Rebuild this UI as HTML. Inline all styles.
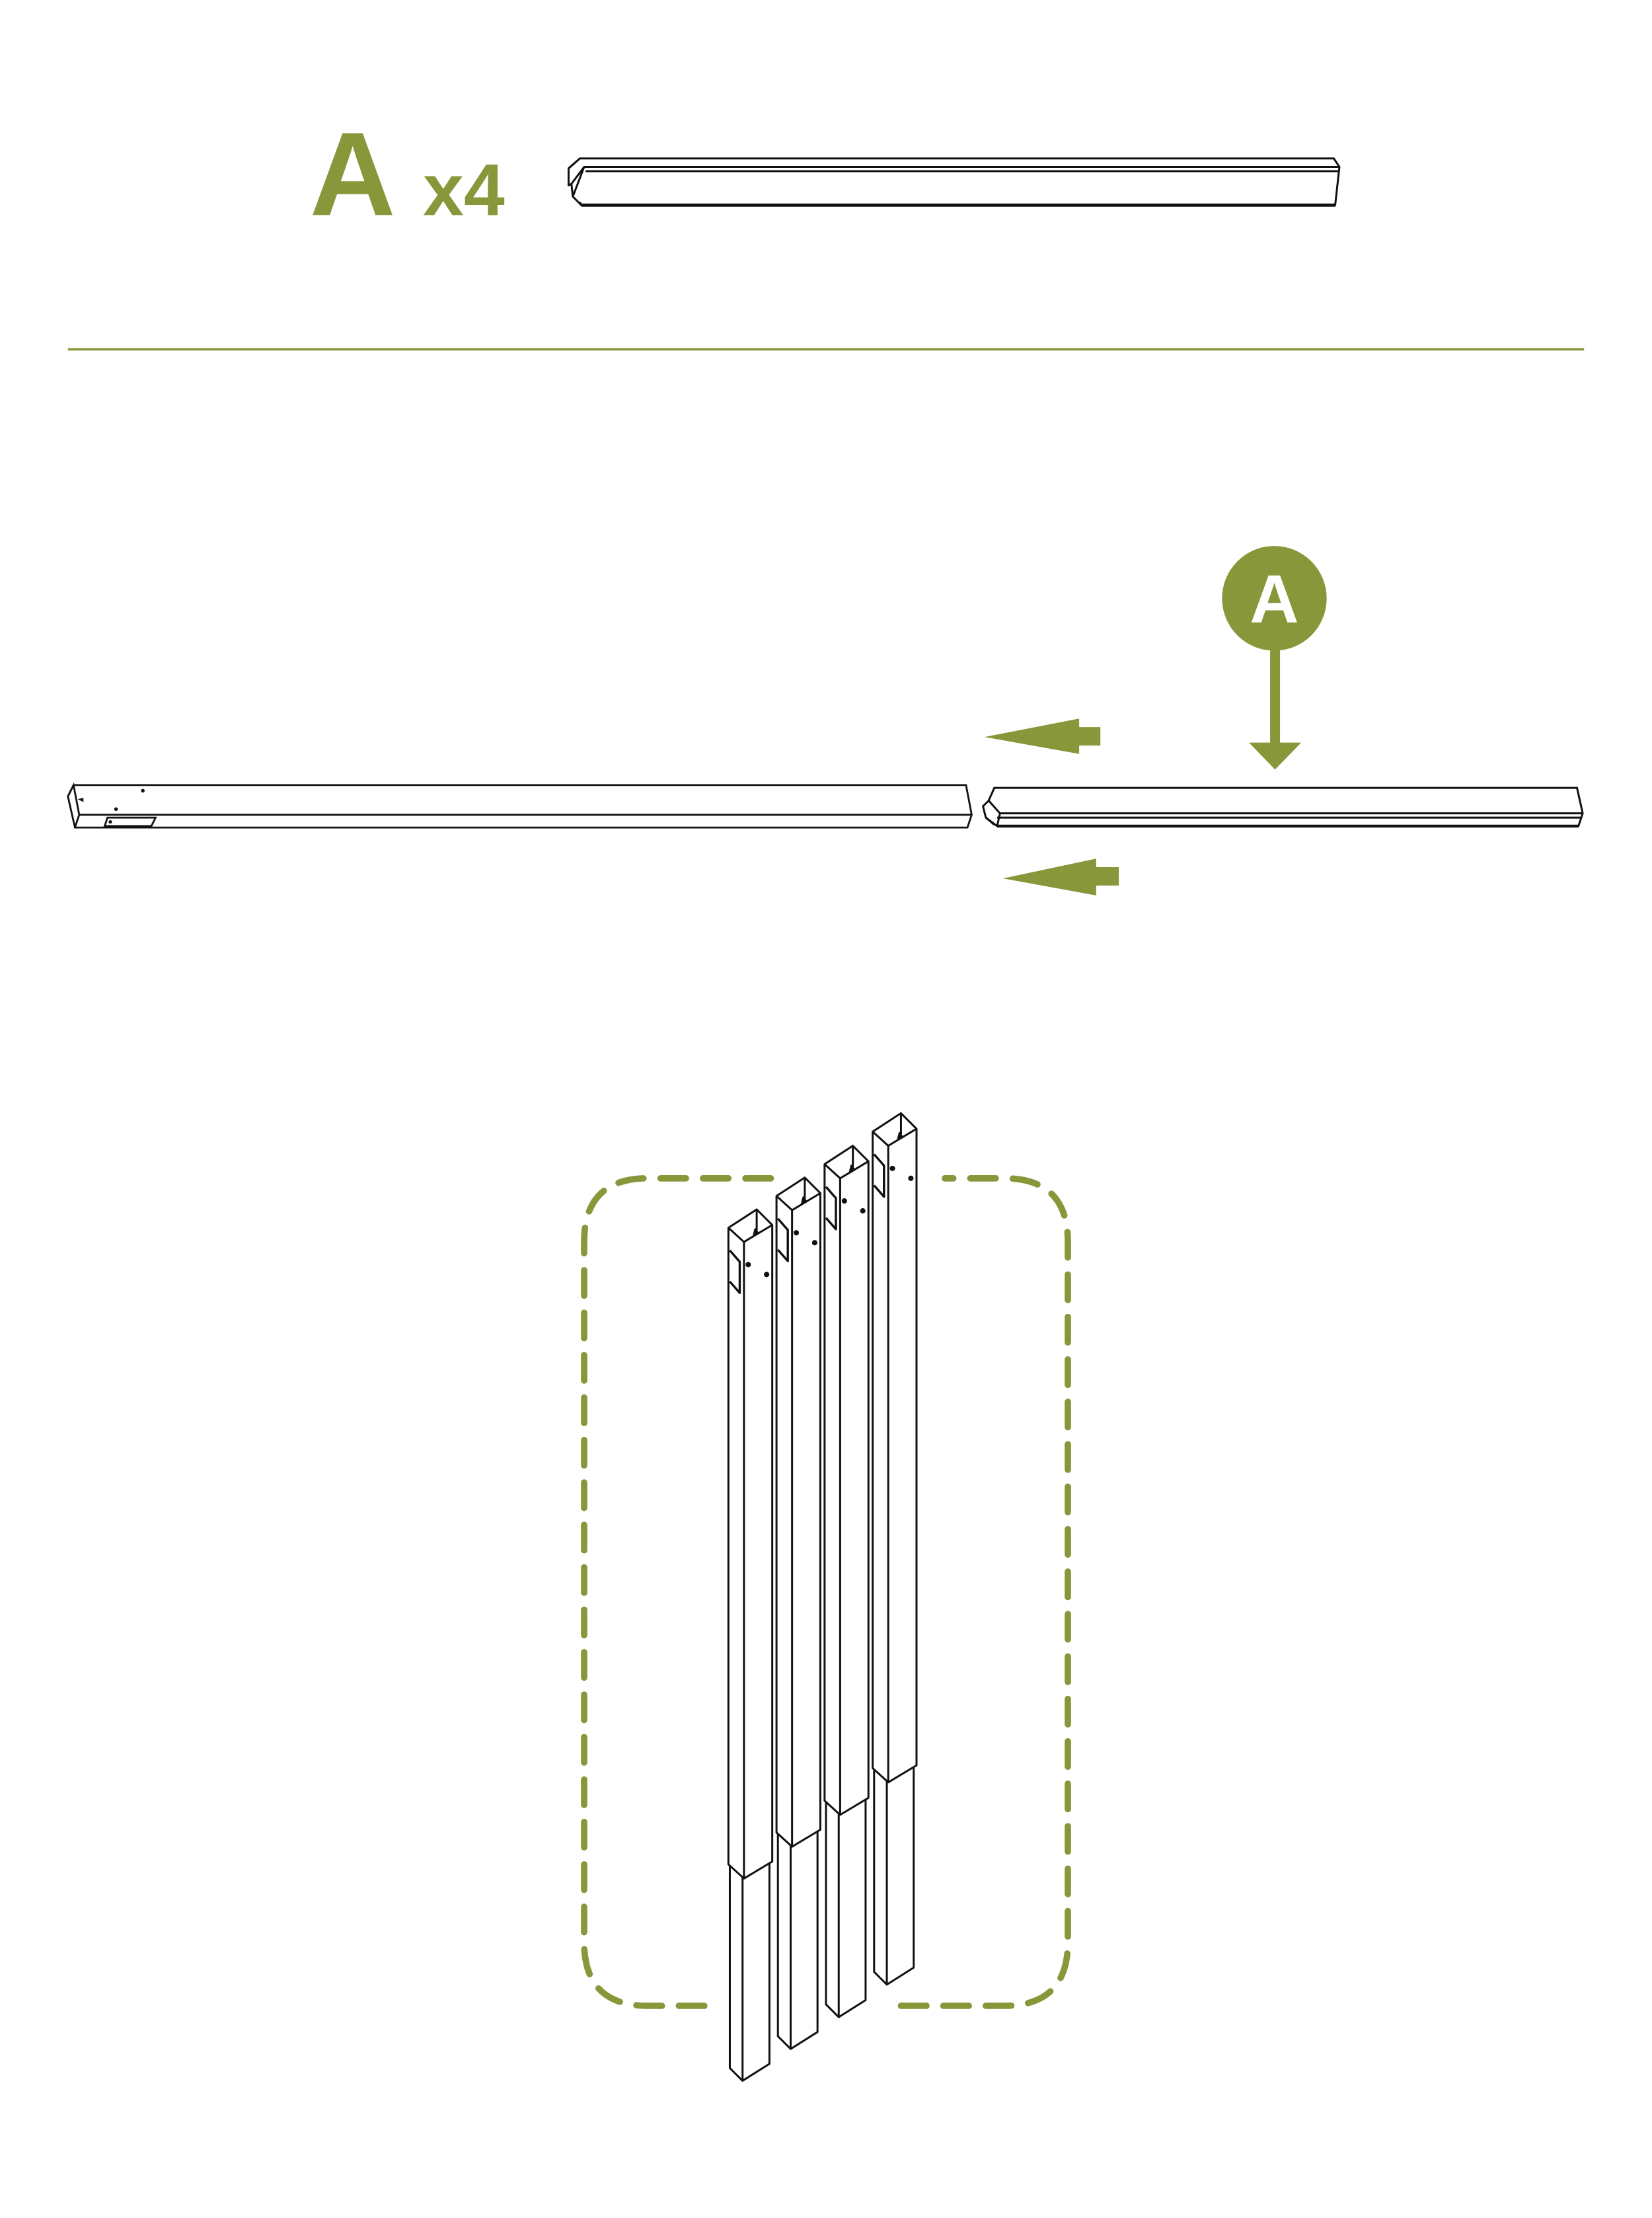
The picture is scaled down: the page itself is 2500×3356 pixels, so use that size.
<!DOCTYPE html>
<html><head><meta charset="utf-8"><style>
html,body{margin:0;padding:0;background:#fff;}
svg{display:block;}
</style></head><body>
<svg width="2500" height="3356" viewBox="0 0 1168 1568" preserveAspectRatio="none" xmlns="http://www.w3.org/2000/svg">
<rect width="1170" height="1570" fill="#fff"/>
<g fill="#87973a" font-family="Liberation Sans, sans-serif" font-weight="bold">
<text x="219" y="152" font-size="84">A</text>
<text x="299" y="152" font-size="52">x4</text>
</g>
<g fill="none" stroke="#111" stroke-width="1.4" stroke-linejoin="round">
<path d="M410,112 L943,112 L947,118 L944,145 L411,145 L405,139 L404,130 L402,131 L402,119 Z"/>
<path d="M402,119 L410,112 M404,130 L413,118 L947,118 M413,118 L405,139 M411,145 L410,143"/>
<line x1="414" y1="121" x2="946" y2="121"/>
<line x1="411" y1="145" x2="944" y2="145" stroke-width="2.2"/>
</g>
<line x1="48" y1="247" x2="1120" y2="247" stroke="#87973a" stroke-width="1.6"/>
<g fill="none" stroke="#111" stroke-width="1.3">
<path d="M52,555 L683,555 L687,576 L684,585 L53,585 L48,563 Z"/>
<path d="M48,563 L52,555 L56,576 L687,576 M56,576 L53,585"/>
<path d="M76,578 L110,578 L107,584 L74,584 Z"/>
</g>
<g fill="#111"><circle cx="101" cy="559" r="1.3"/><circle cx="82" cy="572" r="1.3"/><circle cx="78" cy="581" r="1.2"/><path d="M55,565 l4,-1 v3 z"/></g>
<g fill="none" stroke="#111" stroke-width="1.4">
<path d="M703,557 L1115,557 L1119,575 L1116,584 L705,584 L697,578 L695,570 L699,566 Z"/>
<path d="M699,566 L707,575 L1119,575 M707,575 L705,584 M697,578 L703,583"/>
<line x1="705" y1="578" x2="1118" y2="578"/>
<line x1="705" y1="584" x2="1116" y2="584" stroke-width="2"/>
</g>
<g fill="#87973a">
<circle cx="901" cy="423" r="37"/>
<rect x="898" y="459" width="7" height="67"/>
<path d="M883,525 L920,525 L901.5,544 Z"/>
<path d="M696,521 L763,508 L763,514 L778,514 L778,527 L763,527 L763,533 Z"/>
<path d="M709,621 L775,607 L775,613 L791,613 L791,626 L775,626 L775,633 Z"/>
</g>
<text x="901" y="440" fill="#fff" font-family="Liberation Sans, sans-serif" font-weight="bold" font-size="48" text-anchor="middle">A</text>
<g fill="none" stroke="#87973a" stroke-width="4.5" stroke-linecap="round">
<path d="M545,833 L458,833 Q413,833 413,878 L413,1373 Q413,1418 458,1418 L500,1418" stroke-dasharray="18,12"/>
<path d="M637,1418 L710,1418 Q755,1418 755,1373 L755,878 Q755,833 710,833 L668,833" stroke-dasharray="18,12"/>
</g>
<defs>
<g id="leg" fill="#fff" stroke="#111" stroke-width="1.4" stroke-linejoin="round">
<path d="M516,1318 L516,1462 L525,1471 L544,1459 L544,1316 Z"/>
<line x1="525" y1="1325" x2="525" y2="1471"/>
<path d="M515,868 L535,855 L546,866 L546,1316 L526,1328 L515,1318 Z"/>
<path d="M515,868 L526,878 L546,866 M526,878 L526,1328 M535,855 L535,870"/>
<path d="M516,884 L523,892 L523,914 L516,906" fill="none" stroke-width="1.6"/>
<circle cx="529" cy="894" r="1.2" fill="#111"/><circle cx="542" cy="901" r="1.2" fill="#111"/>
<path d="M534,869 l2,3 -3,1 z" fill="#111"/>
</g>
</defs>
<use href="#leg"/>
<use href="#leg" transform="translate(34,-22.5)"/>
<use href="#leg" transform="translate(68,-45)"/>
<use href="#leg" transform="translate(102,-68)"/>
</svg>
</body></html>
